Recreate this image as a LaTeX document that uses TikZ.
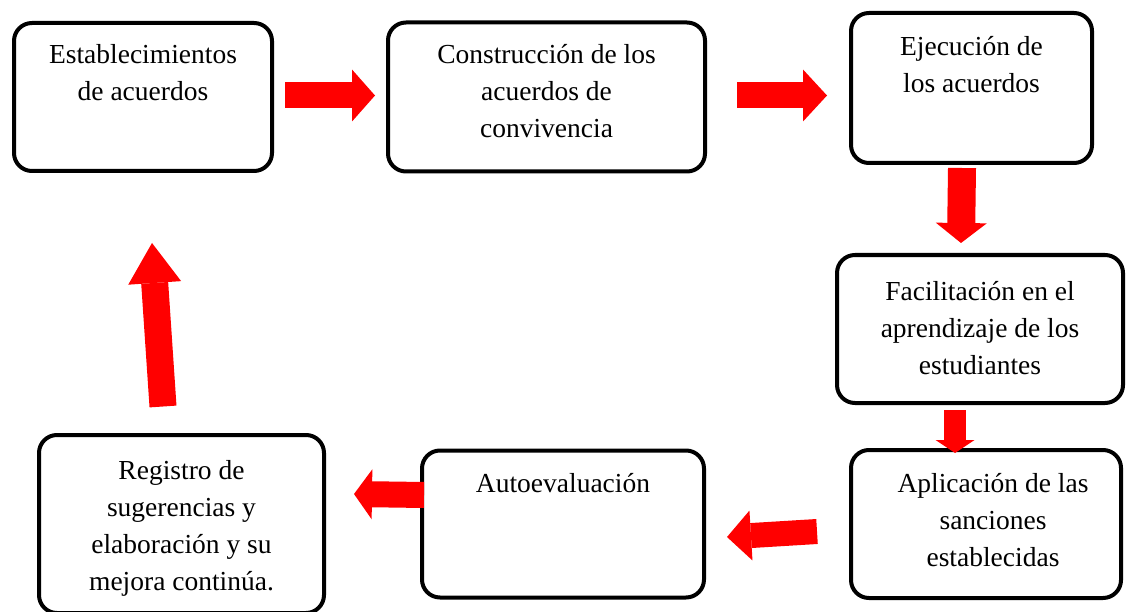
\documentclass[tikz,border=0pt]{standalone}
\usepackage{fontspec}
\setmainfont{Liberation Serif}
\usetikzlibrary{arrows.meta, positioning}
\definecolor{arrowred}{RGB}{255,0,0}
\tikzset{
stage/.style={draw=black, line width=4pt, rounded corners=18pt, fill=white, outer sep=0pt, inner sep=0pt}, % the rounded boxes
stagetext/.style={anchor=north, align=center, inner sep=0pt, font=\fontsize{27.5}{37}\selectfont}, % the text sits at the top of a box
flow/.style n args={3}{draw=arrowred, line width=#1, -{Triangle[length=#2, width=#3, line width=0pt]}}, % red block arrows: shaft, head length, head width
}

\begin{document}
\begin{tikzpicture}[x=1pt, y=-1pt]
      \useasboundingbox (0,0) rectangle (1126,612);

      \node[stage, minimum width=258pt, minimum height=148pt] (est) at (143,97) {};
      \node[stage, minimum width=317pt, minimum height=149pt, right=116pt of est] (cons) {};
      \node[stage, minimum width=241pt, minimum height=150pt, right=146pt of cons, yshift=9pt] (ejec) {};
      \node[stage, minimum width=286pt, minimum height=148pt, below=92pt of ejec, xshift=8.5pt] (facil) {};
      \node[stage, minimum width=270pt, minimum height=148pt, below=47pt of facil, xshift=6pt] (apl) {};
      \node[stage, minimum width=282pt, minimum height=147pt, left=147pt of apl] (auto) {};
      \node[stage, minimum width=285pt, minimum height=178pt, left=98pt of auto] (reg) {};

      \node[stagetext] (estt) at ([yshift=-21pt]est.north) {Establecimientos\\de acuerdos};
      \node[stagetext] (const) at ([yshift=-22pt]cons.north) {Construcción de los\\acuerdos de\\convivencia};
      \node[stagetext] (eject) at ([yshift=-23pt]ejec.north) {Ejecución de\\los acuerdos};
      \node[stagetext] (facilt) at ([yshift=-26pt]facil.north) {Facilitación en el\\aprendizaje de los\\estudiantes};
      \node[stagetext] (aplt) at ([xshift=7pt,yshift=-23pt]apl.north) {Aplicación de las\\sanciones\\establecidas};
      \node[stagetext] (autot) at ([yshift=-23pt]auto.north) {Autoevaluación};
      \node[stagetext] (regt) at ([yshift=-25pt]reg.north) {Registro de\\sugerencias y\\elaboración y su\\mejora continúa.};

      \draw ([xshift=13pt,yshift=1.5pt]est.east) edge[flow={26pt}{23pt}{52pt}] ([xshift=-13pt,yshift=1.5pt]cons.west)
      ([xshift=32pt,yshift=1.5pt]cons.east) edge[flow={26pt}{24pt}{52pt}] ([xshift=-24pt,yshift=-7.5pt]ejec.west)
      ([xshift=-9.5pt,yshift=-5pt]ejec.south) edge[flow={28pt}{20pt}{51pt}] ([xshift=-19pt,yshift=12pt]facil.north)
      ([xshift=-25pt,yshift=-7pt]facil.south) edge[flow={22pt}{13pt}{39pt}] ([xshift=-31pt,yshift=-3pt]apl.north)
      ([xshift=-34pt,yshift=-7.5pt]apl.west) edge[flow={25pt}{24pt}{50pt}] ([xshift=23pt,yshift=-13pt]auto.east)
      ([xshift=2pt,yshift=29pt]auto.west) edge[flow={26pt}{18pt}{50pt}] ([xshift=30pt,yshift=30pt]reg.east)
      ([xshift=-18.5pt,yshift=28.5pt]reg.north) edge[flow={27pt}{40pt}{53pt}] ([xshift=9pt,yshift=-72pt]est.south);
    \end{tikzpicture}
\end{document}
